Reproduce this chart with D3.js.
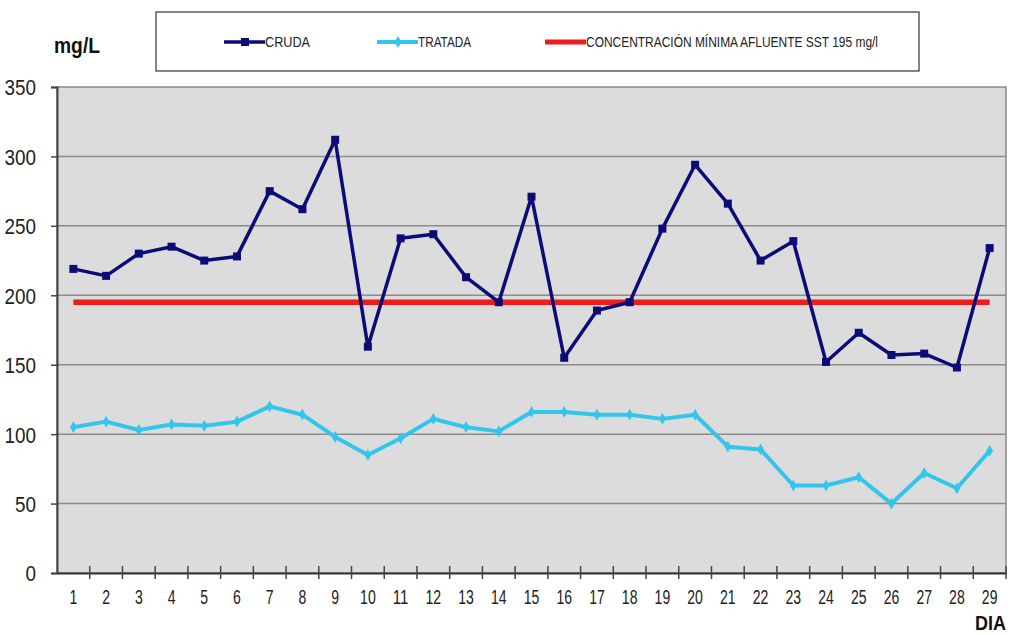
<!DOCTYPE html>
<html>
<head>
<meta charset="utf-8">
<script src="https://cdn.jsdelivr.net/npm/d3@7"></script>
<style>
  body { margin: 0; background: #fff; }
  svg text { font-family: "Liberation Sans Narrow", "Arial Narrow", "Liberation Sans", Arial, sans-serif; }
</style>
</head>
<body>
<div id="chart"></div>
<script>
// values
const days = ["1","2","3","4","5","6","7","8","9","10","11","12","13","14","15",
              "16","17","18","19","20","21","22","23","24","25","26","27","28","29"];
const cruda = [219, 214, 230, 235, 225, 228, 275, 262, 312, 163, 241, 244, 213, 195, 271,
               155, 189, 195, 248, 294, 266, 225, 239, 152, 173, 157, 158, 148, 234];
const tratada = [105, 109, 103, 107, 106, 109, 120, 114, 98, 85, 97, 111, 105, 102, 116,
                 116, 114, 114, 111, 114, 91, 89, 63, 63, 69, 50, 72, 61, 88];
const limite = 195;
const yTicks = [0, 50, 100, 150, 200, 250, 300, 350];
const legendLabels = ["CRUDA", "TRATADA", "CONCENTRACIÓN MÍNIMA AFLUENTE SST 195 mg/l"];

const W = 1010, H = 635;
const plot = { left: 57, right: 1006, top: 87, bottom: 573 };

const colCruda = "#0c0c78", colTratada = "#33c6ec", colLimite = "#ee1c1c";

const svg = d3.select("#chart").append("svg")
    .attr("width", W)
    .attr("height", H);

const x = d3.scaleBand().domain(days).range([plot.left, plot.right]);
const y = d3.scaleLinear().domain([0, 350]).range([plot.bottom, plot.top]);
const cx = d => x(d) + x.bandwidth() / 2;

// plot background
svg.append("rect")
    .attr("x", plot.left).attr("y", plot.top)
    .attr("width", plot.right - plot.left).attr("height", plot.bottom - plot.top)
    .attr("fill", "#dcdcdc")
    .attr("stroke", "#8a8a8a").attr("stroke-width", 1.5);

// gridlines
svg.append("g").selectAll("line")
    .data(yTicks.filter(v => v > 0 && v < 350))
    .join("line")
      .attr("x1", plot.left).attr("x2", plot.right)
      .attr("y1", d => y(d)).attr("y2", d => y(d))
      .attr("stroke", "#8c8c8c").attr("stroke-width", 1.5);

// y axis
const yAxis = svg.append("g")
    .attr("transform", `translate(${plot.left},0)`)
    .call(d3.axisLeft(y).tickValues(yTicks).tickSize(6).tickPadding(15));
yAxis.select(".domain").attr("stroke", "#444").attr("stroke-width", 2);
yAxis.selectAll(".tick line").attr("stroke", "#444").attr("stroke-width", 1.5);
yAxis.selectAll(".tick text")
    .attr("font-size", 22).attr("fill", "#222").attr("dy", "0.36em")
    .attr("textLength", d => String(d).length * 10.5)
    .attr("lengthAdjust", "spacingAndGlyphs");

// x axis: labels centred on categories, ticks at band edges
const xAxis = svg.append("g")
    .attr("transform", `translate(0,${plot.bottom})`)
    .call(d3.axisBottom(x).tickSize(0).tickPadding(17));
xAxis.select(".domain").attr("stroke", "#333").attr("stroke-width", 2);
xAxis.selectAll(".tick text")
    .attr("font-size", 20).attr("fill", "#222")
    .attr("textLength", d => d.length * 7.8)
    .attr("lengthAdjust", "spacingAndGlyphs");

svg.append("g").selectAll("line")
    .data(days.slice(1).concat(["end"]))
    .join("line")
      .attr("x1", d => d === "end" ? plot.right : x(d))
      .attr("x2", d => d === "end" ? plot.right : x(d))
      .attr("y1", plot.bottom - 7).attr("y2", plot.bottom + 6)
      .attr("stroke", "#444").attr("stroke-width", 1.5);

// threshold line
svg.append("line")
    .attr("x1", cx(days[0])).attr("x2", cx(days[days.length - 1]))
    .attr("y1", y(limite)).attr("y2", y(limite))
    .attr("stroke", colLimite).attr("stroke-width", 5.5);

const line = d3.line().x((d, i) => cx(days[i])).y(d => y(d));

// TRATADA
svg.append("path").datum(tratada)
    .attr("d", line).attr("fill", "none")
    .attr("stroke", colTratada).attr("stroke-width", 4).attr("stroke-linejoin", "round");
svg.append("g").selectAll("path")
    .data(tratada)
    .join("path")
      .attr("d", d3.symbol(d3.symbolDiamond, 40))
      .attr("transform", (d, i) => `translate(${cx(days[i])},${y(d)})`)
      .attr("fill", colTratada);

// CRUDA
svg.append("path").datum(cruda)
    .attr("d", line).attr("fill", "none")
    .attr("stroke", colCruda).attr("stroke-width", 3.5).attr("stroke-linejoin", "round");
svg.append("g").selectAll("rect")
    .data(cruda)
    .join("rect")
      .attr("x", (d, i) => cx(days[i]) - 4).attr("y", d => y(d) - 4)
      .attr("width", 8).attr("height", 8)
      .attr("fill", colCruda);

// axis titles
svg.append("text").attr("x", 54).attr("y", 53)
    .attr("font-size", 22).attr("font-weight", "bold").attr("fill", "#111")
    .attr("textLength", 46).attr("lengthAdjust", "spacingAndGlyphs")
    .text("mg/L");
svg.append("text").attr("x", 975).attr("y", 630)
    .attr("font-size", 21).attr("font-weight", "bold").attr("fill", "#111")
    .attr("textLength", 31).attr("lengthAdjust", "spacingAndGlyphs")
    .text("DIA");

// legend
const lg = svg.append("g");
lg.append("rect")
    .attr("x", 156).attr("y", 12).attr("width", 763).attr("height", 59)
    .attr("fill", "#fff").attr("stroke", "#333").attr("stroke-width", 1.2);

const items = [
  { x: 224, color: colCruda, w: 3.5, mark: "square", tl: 45 },
  { x: 377, color: colTratada, w: 4, mark: "diamond", tl: 53 },
  { x: 545, color: colLimite, w: 5, mark: null, tl: 292 }
];
items.forEach((it, i) => {
  lg.append("line")
      .attr("x1", it.x).attr("x2", it.x + 41)
      .attr("y1", 42).attr("y2", 42)
      .attr("stroke", it.color).attr("stroke-width", it.w);
  if (it.mark === "square") {
    lg.append("rect").attr("x", it.x + 17).attr("y", 38)
        .attr("width", 8).attr("height", 8).attr("fill", it.color);
  } else if (it.mark === "diamond") {
    lg.append("path").attr("d", d3.symbol(d3.symbolDiamond, 40))
        .attr("transform", `translate(${it.x + 21},42)`).attr("fill", it.color);
  }
  lg.append("text")
      .attr("x", it.x + 41).attr("y", 47)
      .attr("font-size", 14).attr("fill", "#222")
      .attr("textLength", it.tl).attr("lengthAdjust", "spacingAndGlyphs")
      .text(legendLabels[i]);
});
</script>
</body>
</html>
